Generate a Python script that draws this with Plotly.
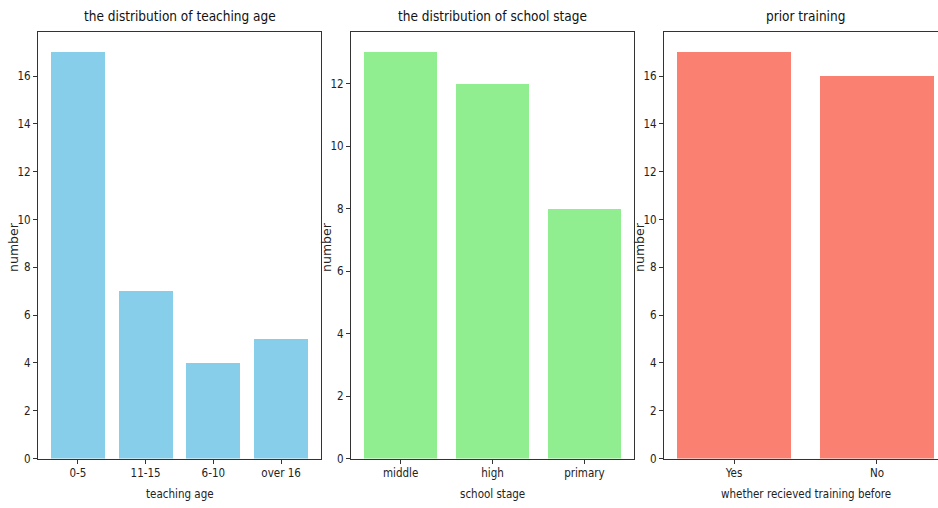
import plotly.graph_objects as go

teach_cats = ["0-5", "11-15", "6-10", "over 16"]
teach_vals = [17, 7, 4, 5]
stage_cats = ["middle", "high", "primary"]
stage_vals = [13, 12, 8]
train_cats = ["Yes", "No"]
train_vals = [17, 16]

titles = ["the distribution of teaching age", "the distribution of school stage", "prior training"]
xlabels = ["teaching age", "school stage", "whether recieved training before"]
colors = ["#87CEEB", "#90EE90", "#FA8072"]

W, H = 938, 508
VS = 0.9866  # vertical correction of the photographed page
FONT = "DejaVu Sans Condensed, DejaVu Sans"

# pixel geometry of panels in window coordinates
panels = [(38, 321), (351, 634), (664, 947)]
top_px, bot_px = 32, 458.7


def px_x(x):
    return x / W


def px_y(y):
    return (H - y / VS) / H


y0, y1 = px_y(bot_px), px_y(top_px)

fig = go.Figure()
data = [(teach_cats, teach_vals), (stage_cats, stage_vals), (train_cats, train_vals)]
annotations = []
for i, ((cats, vals), color) in enumerate(zip(data, colors)):
    n = i + 1
    xa = "x" if n == 1 else f"x{n}"
    ya = "y" if n == 1 else f"y{n}"
    fig.add_trace(go.Bar(x=list(range(len(cats))), y=vals, marker_color=color,
                         marker_line_width=0, width=0.8, xaxis=xa, yaxis=ya,
                         showlegend=False))
    L, R = panels[i]
    m = 0.05 * (len(cats) - 1 + 0.8)
    lo, hi = -0.4 - m, len(cats) - 1 + 0.4 + m
    if R > W:
        frac = (W - L) / (R - L)
        hi = lo + (hi - lo) * frac
        R = W
    ymax = max(vals) * 1.05
    xkey = "xaxis" if n == 1 else f"xaxis{n}"
    ykey = "yaxis" if n == 1 else f"yaxis{n}"
    tf = dict(family=FONT, size=11.5, color="#222")
    fig.update_layout(**{
        xkey: dict(domain=[px_x(L), min(1, px_x(R))], range=[lo, hi], anchor=ya,
                   tickvals=list(range(len(cats))), ticktext=cats,
                   showline=True, linecolor="#333", linewidth=1.1,
                   mirror=True, ticks="outside", ticklen=4, tickcolor="#333",
                   showgrid=False, zeroline=False, tickfont=tf),
        ykey: dict(domain=[y0, y1], range=[0, ymax], anchor=xa,
                   dtick=2, showline=True, linecolor="#333", linewidth=1.1,
                   mirror=(n != 3), ticks="outside", ticklen=4, tickcolor="#333",
                   showgrid=False, zeroline=False, tickfont=tf),
    })
    Lp, Rp = panels[i]
    cx = px_x((Lp + Rp) / 2)
    annotations.append(dict(text=titles[i], x=cx, y=px_y(16), xref="paper", yref="paper",
                            showarrow=False, xanchor="center", yanchor="middle",
                            font=dict(family=FONT, size=13.5, color="#111")))
    annotations.append(dict(text=xlabels[i], x=cx, y=px_y(494), xref="paper", yref="paper",
                            showarrow=False, xanchor="center", yanchor="middle",
                            font=dict(family=FONT, size=11.5, color="#222")))
    annotations.append(dict(text="number", x=px_x(Lp - 24), y=px_y(247), xref="paper", yref="paper",
                            showarrow=False, xanchor="center", yanchor="middle", textangle=-90,
                            font=dict(family="DejaVu Sans", size=12.5, color="#222")))

fig.update_layout(width=W, height=H, autosize=False, margin=dict(l=0, r=0, t=0, b=0),
                  paper_bgcolor="white", plot_bgcolor="white", bargap=0,
                  annotations=annotations)
fig.write_html("out.html", config={"displayModeBar": False},
               post_script="document.body.style.margin='0';document.body.style.overflow='hidden';")
